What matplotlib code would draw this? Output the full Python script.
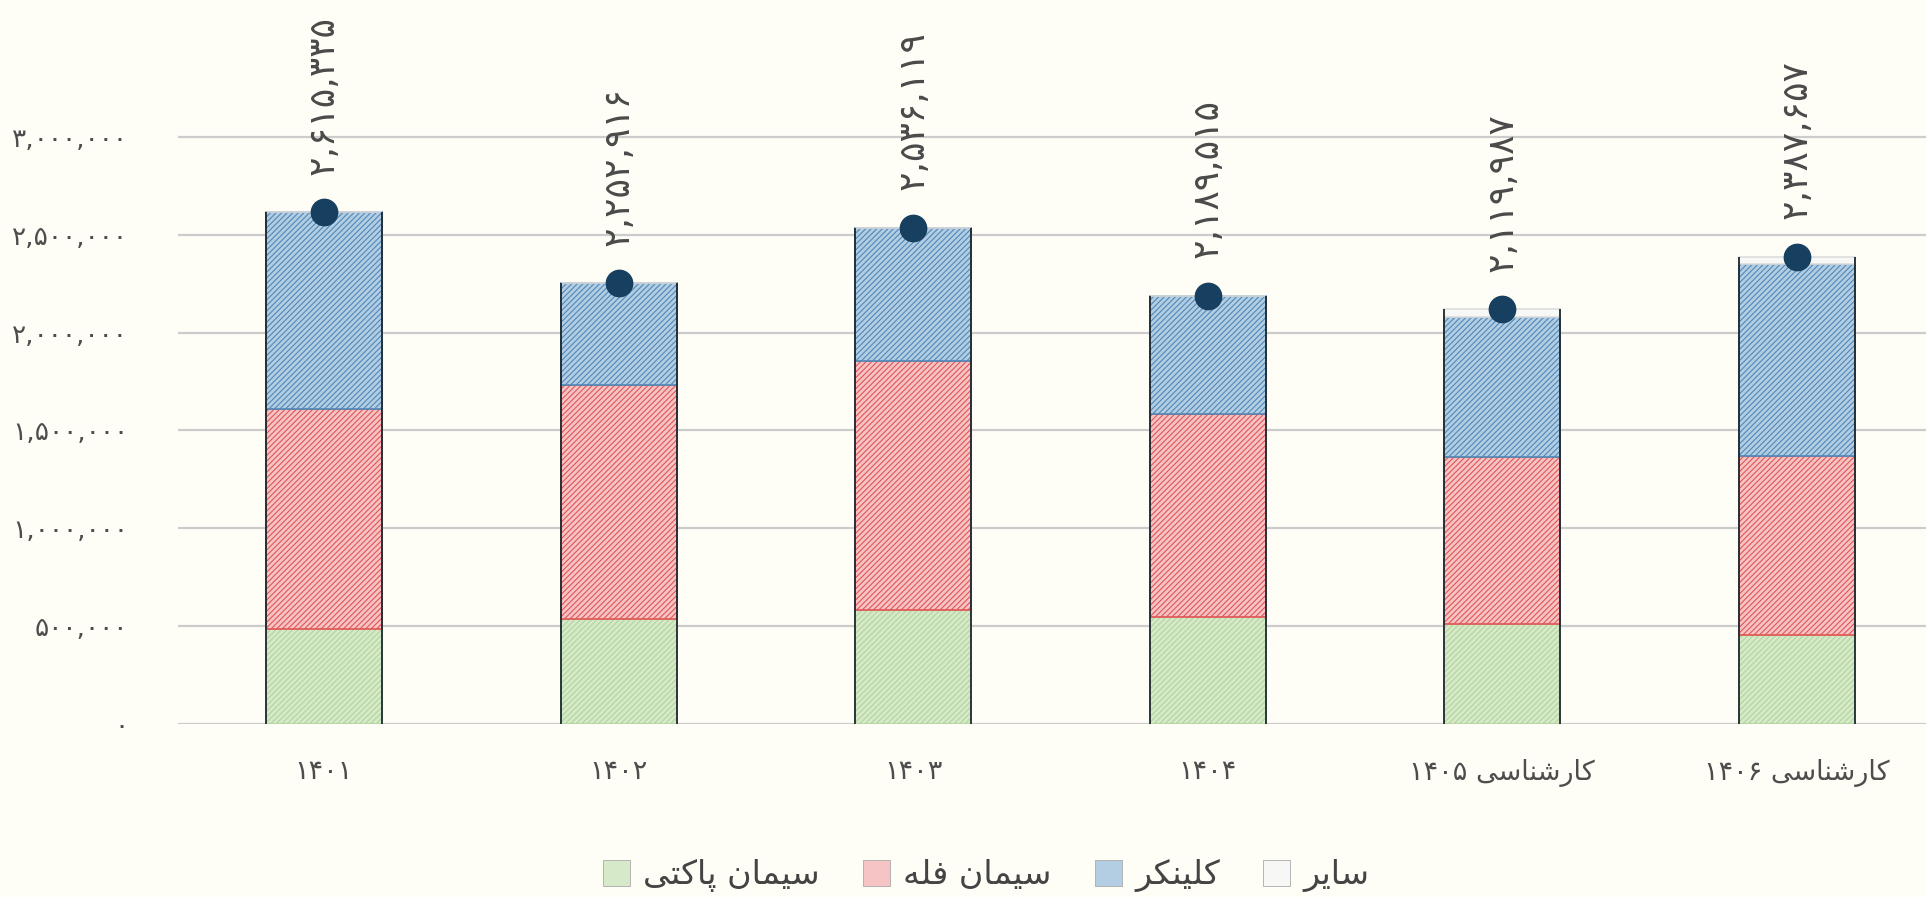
import re
import matplotlib
matplotlib.use("Agg")
import matplotlib.pyplot as plt
from matplotlib.patches import Patch

# ---------------- data ----------------
categories = ["۱۴۰۱", "۱۴۰۲", "۱۴۰۳", "۱۴۰۴", "کارشناسی ۱۴۰۵", "کارشناسی ۱۴۰۶"]
series_names = ["سیمان پاکتی", "سیمان فله", "کلینکر", "سایر"]
packaged = [483000, 539000, 581000, 547000, 509000, 457000]
bulk = [1128000, 1195000, 1272000, 1039000, 858000, 914000]
clinker = [1004335, 518916, 683119, 603515, 713000, 980000]
other = [0, 0, 0, 0, 39987, 36657]
totals = [2615335, 2252916, 2536119, 2189515, 2119987, 2387657]
yticks = [0, 500000, 1000000, 1500000, 2000000, 2500000, 3000000]

# ---------------- persian helpers ----------------
FORMS = {  # isolated, final, initial, medial
    "\u0627": ("\uFE8D", "\uFE8E", None, None),
    "\u0631": ("\uFEAD", "\uFEAE", None, None),
    "\u0633": ("\uFEB1", "\uFEB2", "\uFEB3", "\uFEB4"),
    "\u0634": ("\uFEB5", "\uFEB6", "\uFEB7", "\uFEB8"),
    "\u0645": ("\uFEE1", "\uFEE2", "\uFEE3", "\uFEE4"),
    "\u0646": ("\uFEE5", "\uFEE6", "\uFEE7", "\uFEE8"),
    "\u062A": ("\uFE95", "\uFE96", "\uFE97", "\uFE98"),
    "\u0641": ("\uFED1", "\uFED2", "\uFED3", "\uFED4"),
    "\u0644": ("\uFEDD", "\uFEDE", "\uFEDF", "\uFEE0"),
    "\u0647": ("\uFEE9", "\uFEEA", "\uFEEB", "\uFEEC"),
    "\u067E": ("\uFB56", "\uFB57", "\uFB58", "\uFB59"),
    "\u06A9": ("\uFB8E", "\uFB8F", "\uFB90", "\uFB91"),
    "\u06CC": ("\uFBFC", "\uFBFD", "\uFBFE", "\uFBFF"),
}


def shape(text):
    out = []
    for i, ch in enumerate(text):
        if ch not in FORMS:
            out.append(ch)
            continue
        prev = text[i - 1] if i > 0 else None
        nxt = text[i + 1] if i + 1 < len(text) else None
        pj = prev in FORMS and FORMS[prev][2] is not None
        nj = nxt in FORMS and FORMS[ch][2] is not None
        if pj and nj:
            idx = 3
        elif pj:
            idx = 1
        elif nj:
            idx = 2
        else:
            idx = 0
        out.append(FORMS[ch][idx])
    s = "".join(out)[::-1]
    return re.sub(r"[0-9\u06F0-\u06F9,]+", lambda m: m.group(0)[::-1], s)


PDIG = str.maketrans("0123456789", "۰۱۲۳۴۵۶۷۸۹")


def pnum(v):
    return f"{int(v):,}".translate(PDIG)


# ---------------- style ----------------
plt.rcParams["font.family"] = ["DejaVu Sans"]
plt.rcParams["hatch.linewidth"] = 0.8
BG = "#fefdf6"
TXT = "#4d4d4d"

fig = plt.figure(figsize=(19.26, 8.97), dpi=100, facecolor=BG)
ax = fig.add_axes([178 / 1926, 173 / 897, 1 - 178 / 1926, 1 - 173 / 897])
ax.set_facecolor(BG)

x = list(range(len(categories)))
w = 0.394
styles = [
    dict(fc="#d6e9c8", ec="#b2d49c", hatch="//////"),
    dict(fc="#f6c4c4", ec="#e25456", hatch="//////"),
    dict(fc="#b3cde2", ec="#4f88b8", hatch="//////"),
    dict(fc="#f7f7f5", ec="#dddddd", hatch=None),
]
bottom = [0] * len(x)
for vals, st in zip([packaged, bulk, clinker, other], styles):
    ax.bar(x, vals, w, bottom=bottom, facecolor=st["fc"], edgecolor=st["ec"],
           hatch=st["hatch"], linewidth=1.2, zorder=2)
    bottom = [b + v for b, v in zip(bottom, vals)]

# dark sketchy side strokes
xl = [xi - w / 2 for xi in x]
xr = [xi + w / 2 for xi in x]
ax.vlines(xl, 0, totals, colors="#1d2a30", linewidth=1.3, zorder=3)
ax.vlines(xr, 0, totals, colors="#1d2a30", linewidth=1.3, zorder=3)

ax.scatter(x, totals, s=360, color="#173f5f", zorder=4)
for xi, t in zip(x, totals):
    ax.annotate(pnum(t), (xi, t), xytext=(0, 27), textcoords="offset points",
                rotation=90, ha="center", va="bottom", fontsize=26, color="#4a4a4a")

ax.set_xlim(-0.4956, 5.438)
ax.set_ylim(0, 3700170)
ax.set_yticks(yticks)
ax.set_yticklabels([pnum(v) for v in yticks], fontsize=19, color=TXT)
ax.set_xticks(x)
ax.set_xticklabels([shape(c) for c in categories], fontsize=19.5, color=TXT)
ax.tick_params(axis="y", length=0, pad=36)
ax.tick_params(axis="x", length=0, pad=25)
ax.grid(axis="y", color="#cccccc", linewidth=1.6)
ax.set_axisbelow(True)
for sp in ax.spines.values():
    sp.set_visible(False)

handles = [Patch(facecolor=st["fc"], edgecolor="#aaaaaa", linewidth=0.6) for st in styles]
fig.legend(handles, [shape(n) for n in series_names], loc="center",
           bbox_to_anchor=(0.512, 0.024), ncol=4, frameon=False, fontsize=24,
           handlelength=0.8, handleheight=0.8, handletextpad=0.4,
           columnspacing=1.3, labelcolor="#444444")

fig.savefig("out.png", dpi=100, facecolor=BG)
